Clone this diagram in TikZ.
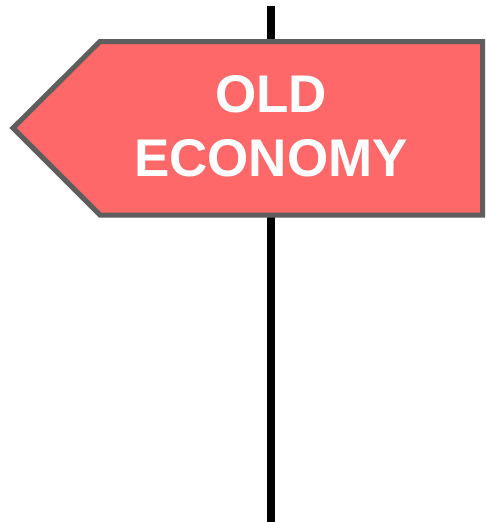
\documentclass[tikz,border=0pt]{standalone}
\usepackage{fontspec}
\newfontfamily\signfont{Liberation Sans}
\usepackage{tikz}

\definecolor{signred}{HTML}{FF6868}
\definecolor{signedge}{HTML}{5E5E5E}

\tikzset{
    pole/.style={line width=8pt, black},
    signboard/.style={line width=5pt, draw=signedge, fill=signred, line join=miter},
    signtext/.style={text=white, align=center, inner sep=0pt,
        font=\signfont\bfseries\fontsize{53}{64}\selectfont}
}

\begin{document}
\begin{tikzpicture}[x=1pt, y=-1pt]
            \useasboundingbox (0,0) rectangle (485,522);

            \coordinate (poletop) at (270.5,6);
            \coordinate (polefoot) at (270.5,522);
            \draw[pole] (poletop) -- (polefoot);

            \draw[signboard] (13,128) -- (100,41.5) -- (482.5,41.5) -- (482.5,215) -- (100,215) -- cycle;

            \node[signtext] (sign) at (271,126) {OLD\\ECONOMY};
            \end{tikzpicture}
\end{document}
